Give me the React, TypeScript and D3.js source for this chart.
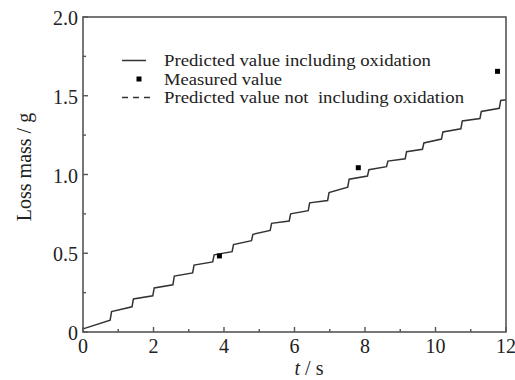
import React from "react";
import * as d3 from "d3";

const xTickLabels = ["0", "2", "4", "6", "8", "10", "12"];
const xTickValues = [0, 2, 4, 6, 8, 10, 12];
const yTickLabels = ["0", "0.5", "1.0", "1.5", "2.0"];
const yTickValues = [0, 0.5, 1.0, 1.5, 2.0];

const startTime = 0;
const startValue = 0.02;
const endTime = 12;
const endValue = 1.475;
const stepTimes = [0.79, 1.41, 2.0, 2.57, 3.13, 3.7, 4.25, 4.8, 5.33, 5.87, 6.41, 6.96, 7.53, 8.09, 8.63, 9.16, 9.65, 10.19, 10.74, 11.28, 11.83];
const levelBefore = [0.075, 0.16, 0.23, 0.3, 0.375, 0.445, 0.51, 0.58, 0.645, 0.705, 0.77, 0.835, 0.92, 0.99, 1.05, 1.1, 1.16, 1.225, 1.29, 1.355, 1.42];
const levelAfter = [0.13, 0.21, 0.28, 0.355, 0.425, 0.49, 0.555, 0.62, 0.69, 0.75, 0.82, 0.885, 0.97, 1.03, 1.085, 1.145, 1.2, 1.27, 1.34, 1.4, 1.47];

const measuredT = [3.87, 7.81, 11.76];
const measuredV = [0.483, 1.043, 1.655];

const legendLabels = [
  "Predicted value including oxidation",
  "Measured value",
  "Predicted value not  including oxidation",
];

const W = 515;
const H = 380;
const M = { left: 83, right: 9, top: 17, bottom: 48 };
const font = "'Liberation Serif', 'Times New Roman', Times, serif";
const axisColor = "#555";

export default function App() {
  const x = d3.scaleLinear().domain([0, 12]).range([M.left, W - M.right]);
  const y = d3.scaleLinear().domain([0, 2]).range([H - M.bottom, M.top]);

  const pts: [number, number][] = [[startTime, startValue]];
  stepTimes.forEach((t, i) => {
    pts.push([t - 0.02, levelBefore[i]]);
    pts.push([t + 0.02, levelAfter[i]]);
  });
  pts.push([endTime, endValue]);
  const line = d3
    .line<[number, number]>()
    .x((d) => x(d[0]))
    .y((d) => y(d[1]));

  const xMinor = d3.range(1, 12, 2);
  const yMinor = [0.25, 0.75, 1.25, 1.75];
  const x0 = M.left;
  const x1 = W - M.right;
  const y0 = H - M.bottom;
  const y1 = M.top;

  const legX = 122;
  const legY = [60.5, 79, 97.5];
  const legWidths = [267, 118, 300];

  return (
    <svg width={W} height={H} style={{ position: "absolute", left: 0, top: 0, background: "#fff", fontFamily: font }}>
      <rect x={0} y={0} width={W} height={H} fill="#fff" />
      <path d={line(pts) || ""} fill="none" stroke="#333" strokeWidth={1.5} />
      {measuredT.map((t, i) => (
        <rect key={i} x={x(t) - 2.5} y={y(measuredV[i]) - 2.5} width={5} height={5} fill="#000" />
      ))}
      <rect x={x0} y={y1} width={x1 - x0} height={y0 - y1} fill="none" stroke={axisColor} strokeWidth={1.6} />
      {xTickValues.map((v) => (
        <line key={"xt" + v} x1={x(v)} x2={x(v)} y1={y0} y2={y0 - 5} stroke={axisColor} strokeWidth={1.4} />
      ))}
      {xMinor.map((v) => (
        <line key={"xm" + v} x1={x(v)} x2={x(v)} y1={y0} y2={y0 - 3} stroke={axisColor} strokeWidth={1.4} />
      ))}
      {yTickValues.map((v) => (
        <line key={"yt" + v} x1={x0} x2={x0 + 5} y1={y(v)} y2={y(v)} stroke={axisColor} strokeWidth={1.4} />
      ))}
      {yMinor.map((v) => (
        <line key={"ym" + v} x1={x0} x2={x0 + 3} y1={y(v)} y2={y(v)} stroke={axisColor} strokeWidth={1.4} />
      ))}
      {xTickValues.map((v, i) => (
        <text key={"xl" + v} x={x(v)} y={353} textAnchor="middle" fontSize={20} fill="#222">
          {xTickLabels[i]}
        </text>
      ))}
      {yTickValues.map((v, i) => (
        <text key={"yl" + v} x={78} y={y(v) + 8} textAnchor="end" fontSize={20} fill="#222">
          {yTickLabels[i]}
        </text>
      ))}
      <text x={309} y={375} textAnchor="middle" fontSize={20} fill="#222">
        <tspan fontStyle="italic">t</tspan>
        <tspan> / s</tspan>
      </text>
      <text transform="translate(31, 167) rotate(-90)" textAnchor="middle" fontSize={20} fill="#222">
        Loss mass / g
      </text>
      <line x1={legX} x2={legX + 24} y1={legY[0]} y2={legY[0]} stroke="#333" strokeWidth={1.5} />
      <rect x={legX + 14.5} y={legY[1] - 2.5} width={5} height={5} fill="#000" />
      <line x1={legX} x2={legX + 30} y1={legY[2]} y2={legY[2]} stroke="#333" strokeWidth={1.5} strokeDasharray="6,5" />
      {legendLabels.map((s, i) => (
        <text
          key={"lg" + i}
          x={164}
          y={legY[i] + 5.5}
          fontSize={16.5}
          fill="#222"
          textLength={legWidths[i]}
          lengthAdjust="spacingAndGlyphs"
          style={{ whiteSpace: "pre" }}
        >
          {s}
        </text>
      ))}
    </svg>
  );
}
